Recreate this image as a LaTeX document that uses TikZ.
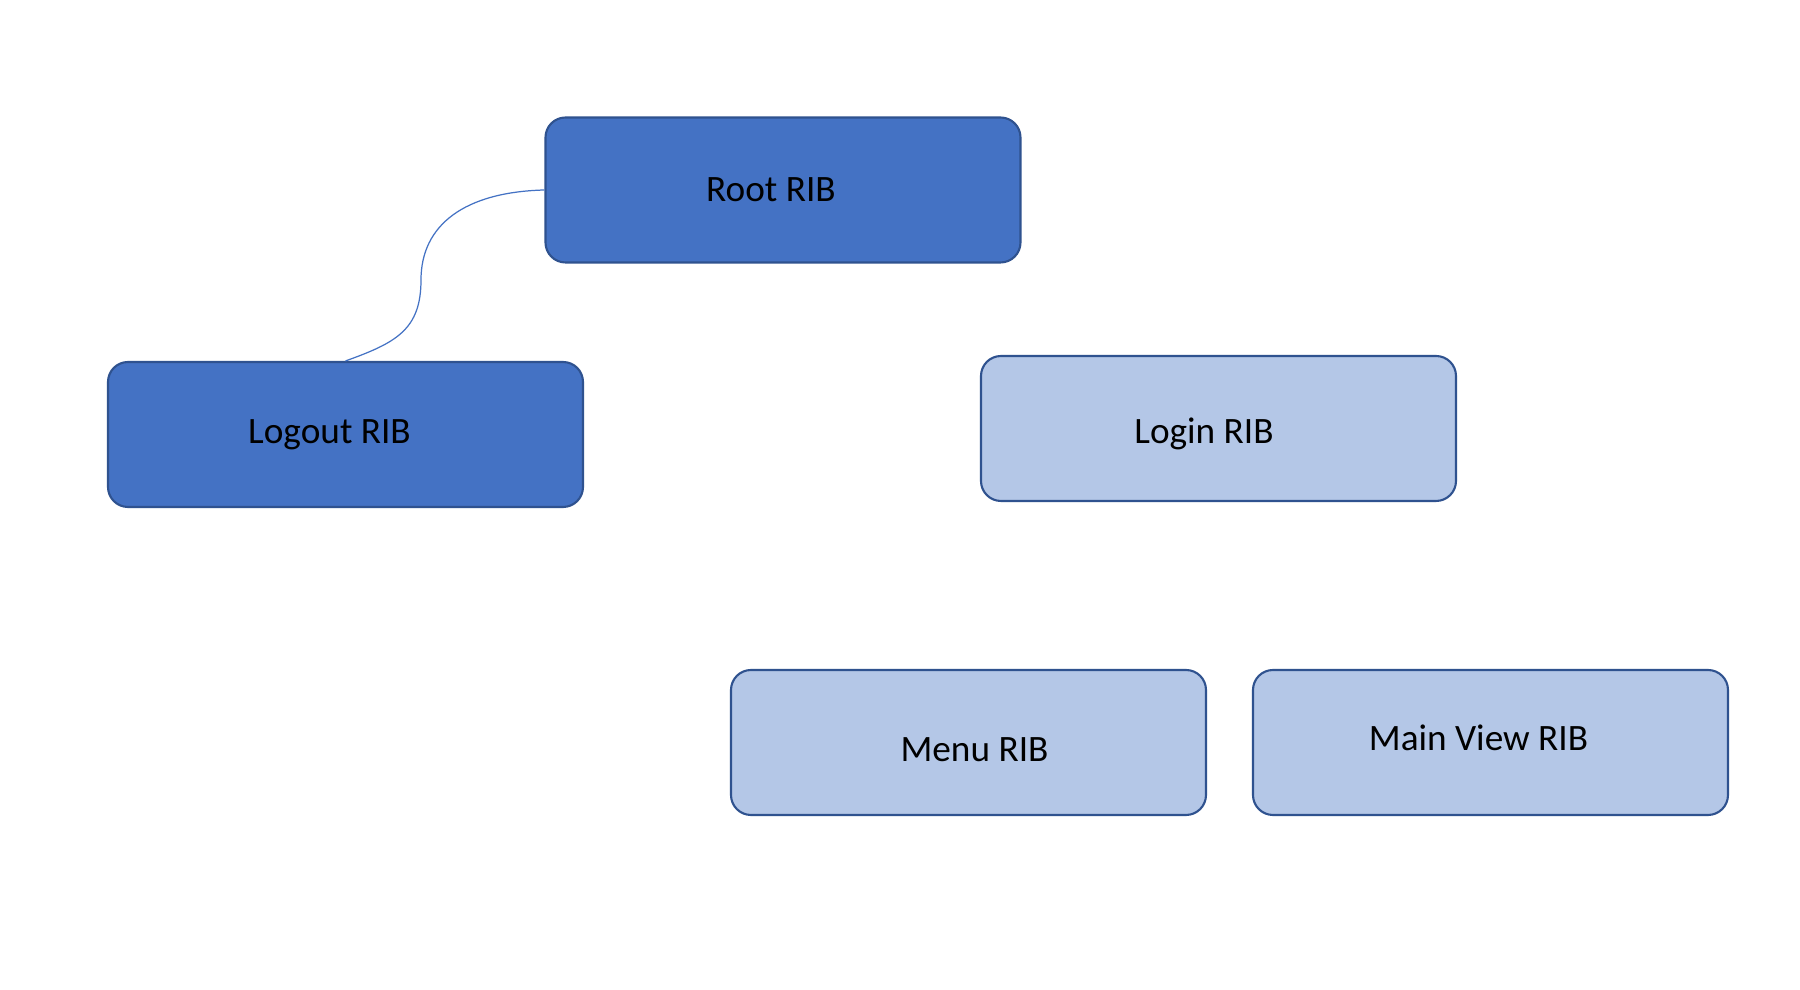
\documentclass[tikz,border=0pt]{standalone}
\usepackage{fontspec}
\setmainfont{Carlito}
\usetikzlibrary{calc}
\definecolor{RibDark}{HTML}{4472C4}
\definecolor{RibLight}{HTML}{B4C7E7}
\definecolor{RibBorder}{HTML}{2F528F}
\tikzset{
    rib/.style={draw=RibBorder, line width=0.6pt, rounded corners=0.2cm,
        minimum width=4.75cm, minimum height=1.45cm, inner sep=0pt},
    ribdark/.style={rib, fill=RibDark},
    riblight/.style={rib, fill=RibLight},
    riblabel/.style={font=\fontsize{10.6}{13}\selectfont, text=black, inner sep=0pt},
    ribline/.style={draw=RibDark, line width=0.35pt}
}
\begin{document}
\begin{tikzpicture}
    % =========================================
    % 1. 画布 (Canvas)
    % =========================================
    \useasboundingbox (0,0) rectangle (18,9.9);
    \fill[white] (0,0) rectangle (18,9.9);

    % =========================================
    % 2. 绘制 RIB 节点 (Nodes)
    % =========================================
    \node[ribdark, label={[riblabel, xshift=-0.12cm]center:Root RIB}] (root) at (7.83, 8.00) {};
    \node[ribdark, label={[riblabel, xshift=-0.16cm]center:Logout RIB}] (logout) at (3.455, 5.555) {};
    \node[riblight, label={[riblabel, xshift=-0.145cm, yshift=-0.05cm]center:Login RIB}] (login) at (12.185, 5.615) {};
    \node[riblight, label={[riblabel, xshift=0.06cm, yshift=-0.07cm]center:Menu RIB}] (menu) at (9.685, 2.475) {};
    \node[riblight, label={[riblabel, xshift=-0.12cm, yshift=0.045cm]center:Main View RIB}] (mainview) at (14.905, 2.475) {};

    % =========================================
    % 3. 连线 (Connector)
    % =========================================
    \coordinate (bend) at (4.21, 7.10);
    \draw[ribline] (root.west) .. controls ($(root.west)+(-0.80,-0.02)$) and ($(bend)+(0,0.55)$) .. (bend)
        .. controls ($(bend)+(0,-0.50)$) and ($(logout.north)+(0.50,0.18)$) .. (logout.north);
\end{tikzpicture}
\end{document}
